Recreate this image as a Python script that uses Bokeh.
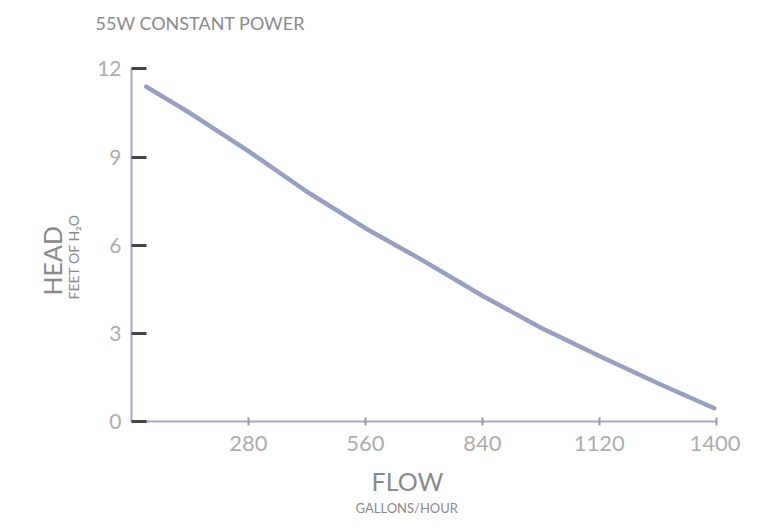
from bokeh.plotting import figure
from bokeh.models import Range1d, FixedTicker, Title
from bokeh.embed import file_html
from bokeh.resources import INLINE

# pump curve
flow = [35, 140, 280, 420, 560, 700, 840, 980, 1120, 1260, 1395]
head = [11.4, 10.5, 9.2, 7.82, 6.58, 5.46, 4.28, 3.19, 2.23, 1.30, 0.45]

x_ticks = [280, 560, 840, 1120, 1400]
y_ticks = [0, 3, 6, 9, 12]

FONT = "Lato"
LABEL_GREY = "#adadad"
TEXT_GREY = "#8a8a8a"
AXIS_BLUE = "#a2aac2"

p = figure(width=740, height=525, output_backend="svg", toolbar_location=None,
           x_range=Range1d(0, 1410), y_range=Range1d(0, 12.9),
           min_border_left=131, min_border_top=42, min_border_right=20, min_border_bottom=104)
p.outline_line_color = None
p.grid.visible = False

p.line(flow, head, line_color="#96a0bf", line_width=4.5, line_cap="round")

# y axis: dark inward ticks
p.yaxis.ticker = FixedTicker(ticks=y_ticks)
p.yaxis.bounds = (0, 12)
p.yaxis.axis_line_color = AXIS_BLUE
p.yaxis.axis_line_width = 2
p.yaxis.major_tick_in = 15
p.yaxis.major_tick_out = 0
p.yaxis.major_tick_line_color = "#444444"
p.yaxis.major_tick_line_width = 3
p.yaxis.minor_tick_line_color = None
p.yaxis.major_label_standoff = 10
p.yaxis.major_label_text_font = FONT
p.yaxis.major_label_text_font_size = "21px"
p.yaxis.major_label_text_color = LABEL_GREY

# x axis: small ticks across the line
p.xaxis.ticker = FixedTicker(ticks=x_ticks)
p.xaxis.bounds = (0, 1400)
p.xaxis.axis_line_color = AXIS_BLUE
p.xaxis.axis_line_width = 2
p.xaxis.major_tick_in = 4
p.xaxis.major_tick_out = 4
p.xaxis.major_tick_line_color = "#9a9a9a"
p.xaxis.major_tick_line_width = 2
p.xaxis.minor_tick_line_color = None
p.xaxis.major_label_standoff = 10
p.xaxis.major_label_text_font = FONT
p.xaxis.major_label_text_font_size = "22px"
p.xaxis.major_label_text_color = LABEL_GREY

# title
p.title.text = "55W CONSTANT POWER"
p.title.align = "left"
p.title.vertical_align = "top"
p.title.offset = -36
p.title.standoff = 13
p.title.text_font = FONT
p.title.text_font_size = "18px"
p.title.text_font_style = "normal"
p.title.text_color = TEXT_GREY

def side_title(txt, place, size, offset, standoff):
    t = Title(text=txt, align="left", offset=offset, standoff=standoff,
              text_font=FONT, text_font_size=size, text_font_style="normal",
              text_color=TEXT_GREY)
    p.add_layout(t, place)

side_title("FEET OF H₂O", "left", "14px", 122, 25)
side_title("HEAD", "left", "25px", 126, -33)
side_title("FLOW", "below", "25px", 240, 20)
side_title("GALLONS/HOUR", "below", "13px", 224, -21)

open("out.html", "w").write(file_html(p, INLINE))
